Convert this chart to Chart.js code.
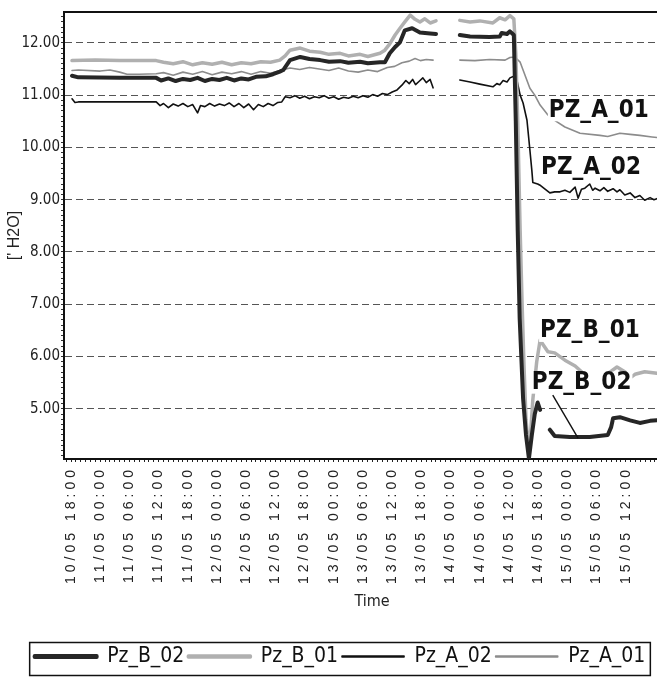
<!DOCTYPE html>
<html>
	<head>
		<title>Pz pressure</title>
		<script src="https://cdn.jsdelivr.net/npm/chart.js@4.4.0/dist/chart.umd.min.js"></script>
		<style>
			html, body { margin: 0; padding: 0; overflow: hidden; background: #fff; }
			canvas { display: block; }
		</style>
	</head>
	<body>
		<canvas id="myChart" width="682" height="677" style="width:682px;height:677px"></canvas>
		<script>
			// hours counted from 10/05 18:00
			const tickLabels = ['10/05 18:00', '11/05 00:00', '11/05 06:00', '11/05 12:00', '11/05 18:00',
				'12/05 00:00', '12/05 06:00', '12/05 12:00', '12/05 18:00', '13/05 00:00', '13/05 06:00',
				'13/05 12:00', '13/05 18:00', '14/05 00:00', '14/05 06:00', '14/05 12:00', '14/05 18:00',
				'15/05 00:00', '15/05 06:00', '15/05 12:00']

			const seriesNames = ['Pz_B_02', 'Pz_B_01', 'Pz_A_02', 'Pz_A_01']

			const b02Hours = [0.2, 1.5, 10, 17.5, 18.5, 20, 21.5, 23, 24.5, 26, 27.5, 29, 30.5, 32, 33.5, 35, 36.5, 38, 40, 41.5,
				42.9, 43.6, 45, 47.1, 49, 51.2, 53, 55.3, 57, 59.4, 61, 63.5, 64.5, 65.5, 66.6, 67.6, 68.6, 70.1, 71.7, 73.8, 75,
				77, 79.9, 82, 86, 88.1, 88.5, 89.6, 90.2, 91, 91.4, 91.8, 92.2, 92.9, 93.5, 94.1, 94.7, 95.3, 95.9, 96.4,
				97.5, 98.4, 99.4, 102.5, 106.6, 110.3, 111, 111.4, 112.8, 114.9, 116.9, 119, 120.4, 125.2]
			const b02Values = [11.37, 11.34, 11.33, 11.33, 11.28, 11.32, 11.27, 11.31, 11.29, 11.33, 11.27, 11.31, 11.29, 11.33, 11.28, 11.32, 11.30, 11.35, 11.36, 11.40,
				11.45, 11.48, 11.67, 11.73, 11.69, 11.67, 11.64, 11.65, 11.62, 11.64, 11.61, 11.63, 11.63, 11.80, 11.92, 12.01, 12.24, 12.28, 12.20, 12.18, 12.17,
				null, 12.15, 12.12, 12.11, 12.12, 12.19, 12.17, 12.22, 12.15, 10.5, 8.4, 6.73, 5.2, 4.5, 4.05, 4.5, 4.9, 5.12, 4.98,
				null, 4.6, 4.48, 4.46, 4.46, 4.5, 4.65, 4.82, 4.84, 4.78, 4.73, 4.77, 4.78, 4.78]

			const b01Hours = [0.2, 5, 10, 17.5, 19, 21, 23, 25, 27, 29, 31, 33, 35, 37, 39, 41, 42.9, 44, 45, 47.1,
				49, 51.2, 53, 55.3, 57, 59.4, 61, 63.5, 64.5, 65.5, 66.6, 67.6, 68.6, 69.7, 70.7, 71.7, 72.7, 73.8, 75,
				77, 79.9, 82, 84, 86.7, 88.1, 89.2, 90.2, 91, 91.4, 91.8, 92.3, 92.7, 93.1, 93.5, 93.9, 94.5, 94.9, 95.7, 96.4,
				97.2, 98, 99.4, 101.5, 103.6, 105.6, 107.7, 109, 111, 112.2, 113.8, 114.9, 115.9, 117.9, 120.4, 125.2]
			const b01Values = [11.66, 11.67, 11.66, 11.66, 11.63, 11.60, 11.64, 11.58, 11.62, 11.59, 11.63, 11.58, 11.62, 11.60, 11.64, 11.63, 11.67, 11.75, 11.86, 11.90,
				11.84, 11.82, 11.78, 11.80, 11.75, 11.78, 11.74, 11.80, 11.86, 11.98, 12.15, 12.28, 12.40, 12.53, 12.45, 12.40, 12.46, 12.38, 12.42,
				null, 12.43, 12.40, 12.42, 12.38, 12.48, 12.44, 12.52, 12.46, 11.8, 10.5, 8.4, 7.0, 5.8, 4.8, 4.35, 4.6, 5.17, 5.9, 6.31,
				6.2, 6.09, 6.07, 5.93, 5.82, 5.65, 5.49, 5.6, 5.72, 5.8, 5.71, 5.59, 5.66, 5.71, 5.68, 5.68]

			const a02Hours = [0.2, 0.8, 1.5, 10, 17.5, 18.3, 19, 20, 21, 22, 23, 24, 25, 26, 26.6, 27.5, 28.5, 29.5, 30.5, 31.5,
				32.5, 33.5, 34.5, 35.5, 36.5, 37.5, 38.5, 39.5, 40.5, 41.5, 42.5, 43.3, 44, 45, 46, 47, 48, 49, 50, 51,
				52, 53, 54, 55, 56, 57, 58, 59, 60, 61, 62, 63, 64, 65, 66, 67, 68, 68.8, 69.5, 70.2,
				70.8, 71.5, 72.3, 73, 73.8, 74.4, 77, 79.9, 82, 84, 86.7, 87.5, 88.1, 88.8, 89.6, 90.2, 91, 91.6, 92.3, 92.9,
				93.7, 94.3, 94.7, 94.9, 95.9, 96.5, 98.4, 99.4, 100.5, 101.5, 102.5, 103.6, 104.2, 104.9, 105.6, 106.6, 107.2, 107.7, 108.7, 109.5,
				110.3, 111.4, 112.2, 112.8, 113.8, 114.9, 115.9, 116.9, 117.9, 119, 119.8, 120.4, 125.2]
			const a02Values = [10.93, 10.86, 10.87, 10.87, 10.87, 10.80, 10.84, 10.76, 10.83, 10.79, 10.84, 10.78, 10.82, 10.66, 10.80, 10.78, 10.84, 10.79, 10.83, 10.80,
				10.85, 10.78, 10.84, 10.76, 10.83, 10.72, 10.82, 10.78, 10.84, 10.80, 10.86, 10.87, 10.97, 10.95, 10.99, 10.94, 10.98, 10.93, 10.97, 10.95,
				10.99, 10.94, 10.97, 10.92, 10.96, 10.94, 10.98, 10.95, 10.99, 10.96, 11.01, 10.98, 11.03, 11.01, 11.06, 11.10, 11.19, 11.28, 11.22, 11.30,
				11.20, 11.26, 11.33, 11.24, 11.30, 11.14, null, 11.29, 11.25, 11.21, 11.16, 11.22, 11.20, 11.28, 11.25, 11.33, 11.36, 11.30, 11.0, 10.85,
				10.52, 9.95, 9.56, 9.33, 9.30, 9.27, 9.13, 9.15, 9.15, 9.18, 9.14, 9.24, 9.03, 9.20, 9.22, 9.30, 9.18, 9.22, 9.17, 9.23,
				9.16, 9.21, 9.15, 9.19, 9.09, 9.13, 9.04, 9.08, 8.99, 9.04, 9.00, 9.02, 9.02]

			const a01Hours = [0.2, 1.5, 6, 8, 10, 11.5, 14, 17.5, 19, 21, 23, 25, 27, 29, 31, 33, 35, 37, 39, 41,
				43, 45, 47, 49, 51, 53, 55, 57, 59, 61, 63, 65, 66.5, 68, 69.5, 70.7, 71.8, 73, 74.4,
				77, 79.9, 83, 86, 89.2, 90.2, 91.2, 92.3, 93.3, 94.3, 95.3, 96.4, 98, 99, 101.5, 104.6, 108.7, 110.3, 112.8, 114.9, 116.9, 119.4, 120.4, 125.2]
			const a01Values = [11.47, 11.48, 11.46, 11.48, 11.44, 11.40, 11.40, 11.41, 11.43, 11.38, 11.44, 11.40, 11.45, 11.39, 11.44, 11.41, 11.45, 11.40, 11.45, 11.42,
				11.47, 11.52, 11.49, 11.53, 11.50, 11.47, 11.52, 11.46, 11.44, 11.48, 11.45, 11.53, 11.55, 11.62, 11.65, 11.70, 11.66, 11.68, 11.67,
				null, 11.67, 11.66, 11.68, 11.67, 11.72, 11.73, 11.63, 11.38, 11.13, 11.0, 10.81, 10.62, 10.54, 10.39, 10.27, 10.23, 10.21, 10.27, 10.25, 10.23, 10.2, 10.19, 10.18]

			// bold tags written inside the plot, and the leader line of PZ_B_02
			const tagTexts = ['PZ_A_01', 'PZ_A_02', 'PZ_B_01', 'PZ_B_02']
			const tagHours = [98.2, 96.6, 96.4, 94.7]
			const tagValues = [10.71, 9.62, 6.49, 5.50]
			const leaderHours = [99.0, 104.2]
			const leaderValues = [5.26, 4.44]

			const narrow = "'Liberation Sans Narrow', 'DejaVu Sans Condensed', sans-serif"

			function points (hours, values) {
				return hours.map((h, i) => ({ x: h, y: values[i] }))
			}
			function whole (v) {
				return Math.abs(v - Math.round(v)) < 1e-6
			}

			// x labels are drawn with wider letter spacing
			const spacedLabels = {
				id: 'spacedLabels',
				beforeDraw (chart) {
					const xs = chart.scales.x
					if (xs._spaced) return
					const draw = xs.drawLabels
					xs.drawLabels = function (area) {
						this.ctx.save()
						this.ctx.letterSpacing = '4px'
						draw.call(this, area)
						this.ctx.restore()
					}
					xs._spaced = true
				}
			}

			const tags = {
				id: 'tags',
				afterDatasetsDraw (chart) {
					const ctx = chart.ctx
					const xs = chart.scales.x
					const ys = chart.scales.y
					const a = chart.chartArea
					ctx.save()
					// top border
					ctx.strokeStyle = '#111'
					ctx.lineWidth = 2
					ctx.beginPath()
					ctx.moveTo(a.left, a.top)
					ctx.lineTo(a.right, a.top)
					ctx.stroke()
					ctx.font = 'bold 24px ' + narrow
					ctx.textBaseline = 'middle'
					ctx.textAlign = 'left'
					for (let i = 0; i < tagTexts.length; i++) {
						const x = xs.getPixelForValue(tagHours[i])
						const y = ys.getPixelForValue(tagValues[i])
						const w = ctx.measureText(tagTexts[i]).width
						ctx.fillStyle = '#fff'
						ctx.fillRect(x - 1, y - 11, w + 2, 22)
						ctx.fillStyle = '#111'
						ctx.fillText(tagTexts[i], x, y)
					}
					ctx.strokeStyle = '#111'
					ctx.lineWidth = 1.4
					ctx.beginPath()
					ctx.moveTo(xs.getPixelForValue(leaderHours[0]), ys.getPixelForValue(leaderValues[0]))
					ctx.lineTo(xs.getPixelForValue(leaderHours[1]), ys.getPixelForValue(leaderValues[1]))
					ctx.stroke()
					ctx.restore()
				},
				afterDraw (chart) {
					const boxes = chart.legend.legendHitBoxes
					if (!boxes.length) return
					const ctx = chart.ctx
					let left = Infinity, right = -Infinity
					boxes.forEach(b => { left = Math.min(left, b.left); right = Math.max(right, b.left + b.width) })
					ctx.save()
					ctx.strokeStyle = '#111'
					ctx.lineWidth = 1.5
					ctx.strokeRect(left - 5, chart.legend.top + 0.5, right - left + 10, chart.legend.height - 2)
					ctx.restore()
				}
			}

			var ctx = document.getElementById('myChart').getContext('2d')
			var chart = new Chart(ctx, {
				type: 'line',
				data: {
					datasets: [
						{ label: seriesNames[0], data: points(b02Hours, b02Values), borderColor: '#262626', backgroundColor: '#262626', borderWidth: 4 },
						{ label: seriesNames[1], data: points(b01Hours, b01Values), borderColor: '#b0b0b0', backgroundColor: '#b0b0b0', borderWidth: 3.5 },
						{ label: seriesNames[2], data: points(a02Hours, a02Values), borderColor: '#111', backgroundColor: '#111', borderWidth: 1.6 },
						{ label: seriesNames[3], data: points(a01Hours, a01Values), borderColor: '#8c8c8c', backgroundColor: '#8c8c8c', borderWidth: 1.6 }
					]
				},
				options: {
					responsive: false,
					animation: false,
					spanGaps: false,
					layout: { padding: { top: 12, right: 2, left: 0, bottom: 0 } },
					elements: {
						point: { radius: 0 },
						line: { tension: 0, borderJoinStyle: 'round', borderCapStyle: 'round' }
					},
					scales: {
						x: {
							type: 'linear',
							min: -1.45,
							max: 125.15,
							afterFit: s => { s.height = 183; s.paddingLeft = 0; s.paddingRight = 0 },
							afterBuildTicks: s => {
								s.ticks = []
								for (let h = -1; h <= 125; h++) s.ticks.push({ value: h })
							},
							ticks: {
								autoSkip: false,
								minRotation: 90,
								maxRotation: 90,
								padding: 4,
								color: '#222',
								font: { family: "'Liberation Sans', Arial, sans-serif", size: 14 },
								callback: v => (v >= 0 && v % 6 === 0 && v / 6 < tickLabels.length) ? tickLabels[v / 6] : ''
							},
							grid: { drawOnChartArea: false, tickLength: 3, color: '#222' },
							border: { color: '#111', width: 2 },
							title: { display: true, text: 'Time', color: '#222', font: { family: narrow, size: 16 }, padding: { top: 0, bottom: 31 } }
						},
						y: {
							min: 4.04,
							max: 12.59,
							afterFit: s => { s.width = 64 },
							afterBuildTicks: s => {
								s.ticks = []
								for (let k = 41; k <= 125; k++) s.ticks.push({ value: k / 10 })
							},
							ticks: {
								autoSkip: false,
								padding: 1,
								color: '#222',
								font: { family: narrow, size: 15 },
								callback: v => (whole(v) && v >= 5) ? Math.round(v).toFixed(2) : ''
							},
							grid: {
								color: c => whole(c.tick.value) ? '#555' : 'rgba(0,0,0,0)',
								tickColor: '#333',
								tickLength: 3,
								lineWidth: 1
							},
							border: { color: '#111', width: 2, dash: [7, 4] },
							title: { display: true, text: "[' H2O]", color: '#222', font: { family: "'Liberation Sans', Arial, sans-serif", size: 16 }, padding: { top: 5, bottom: 0 } }
						}
					},
					plugins: {
						legend: {
							position: 'bottom',
							labels: {
								boxWidth: 62,
								boxHeight: 1,
								padding: 4,
								color: '#111',
								font: { family: narrow, size: 21 }
							}
						},
						tooltip: { enabled: false }
					}
				},
				plugins: [spacedLabels, tags]
			})
		</script>
	</body>
</html>
